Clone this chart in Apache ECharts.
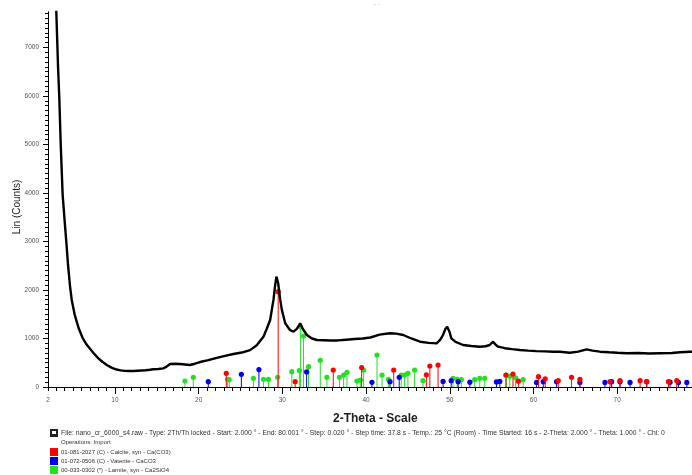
<!DOCTYPE html>
<html>
<head>
<meta charset="utf-8">
<script src="https://cdn.jsdelivr.net/npm/echarts@6/dist/echarts.min.js"></script>
<style>
  html, body { margin: 0; padding: 0; background: #fff; }
  #chart { width: 692px; height: 475px; }
</style>
</head>
<body>
<div id="chart"></div>
<script>
// Measured diffractogram: 2-theta (deg) and intensity (counts)
const scanTheta = [
  2.9, 3.0, 3.1, 3.2, 3.35, 3.52, 3.75, 4.0, 4.23, 4.4, 4.63, 4.83, 5.2, 5.69, 6.14,
  6.59, 7.02, 7.49, 7.99, 8.49, 9.02, 9.59, 10.18, 10.68, 11.18, 11.68, 12.18, 12.68, 13.18,
  13.68, 14.18, 14.57, 15.17, 15.77, 16.17, 16.57, 17.17, 17.77, 18.36, 18.96, 19.56, 20.16,
  21.16, 22.16, 23.15, 24.15, 25.15, 26.14, 26.94, 27.74, 28.14, 28.54, 28.94, 29.14, 29.29,
  29.49, 29.74, 29.94, 30.34, 30.91, 31.33, 31.73, 32.13, 32.43, 32.93, 33.53, 34.13, 35.72,
  36.62, 37.62, 38.62, 39.61, 40.51, 41.61, 42.86, 43.6, 44.45, 45.4, 46.45, 47.49, 48.44,
  48.89, 49.19, 49.49, 49.69, 49.94, 50.19, 50.69, 51.59, 52.58, 53.58, 54.28, 54.78, 55.18,
  55.48, 55.78, 56.57, 57.47, 58.37, 59.37, 60.37, 61.37, 62.36, 63.16, 64.35, 65.35, 66.35,
  67.05, 67.94, 69.04, 70.04, 71.14, 72.53, 73.83, 75.12, 76.52, 77.52, 78.72, 80.0
];
const scanCounts = [
  8400, 7700, 7150, 6600, 5960, 5000, 3960, 3400, 2900, 2500, 2080, 1800, 1480, 1200, 1010,
  880, 790, 690, 595, 520, 454, 400, 360, 342, 332, 330, 330, 335, 340,
  345, 355, 365, 372, 385, 420, 474, 480, 474, 465, 454, 480, 515,
  555, 600, 640, 680, 710, 760, 860, 1037, 1200, 1380, 1800, 2100, 2275,
  2150, 1800, 1590, 1313, 1175, 1140, 1200, 1313, 1200, 1072, 1000, 969, 960,
  960, 975, 990, 1000, 1020, 1080, 1107, 1100, 1072, 1000, 934, 910, 900,
  980, 1072, 1200, 1243, 1150, 1004, 930, 866, 845, 831, 840, 866, 934,
  870, 831, 800, 780, 763, 750, 740, 735, 728, 728, 705, 730, 777,
  750, 728, 715, 705, 695, 700, 690, 695, 700, 715, 728, 720
];

// Reference patterns: peak positions (2-theta) and stick heights (counts)
const calciteTheta = [23.3, 29.5, 31.53, 36.08, 39.47, 43.3, 47.2, 47.62, 48.6, 56.7, 57.55, 58.2,
  60.6, 61.4, 62.96, 64.55, 65.55, 69.14, 70.34, 72.74, 73.53, 76.13, 77.12];
const calciteCounts = [282, 1965, 110, 350, 400, 350, 250, 433, 454, 247, 268, 120,
  212, 170, 130, 200, 160, 110, 130, 130, 110, 110, 130];

const vateriteTheta = [21.15, 25.1, 27.2, 32.9, 40.7, 42.86, 43.96, 49.2, 50.17, 51.0, 52.4, 55.58, 55.98,
  60.37, 61.17, 62.76, 65.55, 68.54, 69.34, 70.34, 71.54, 73.53, 76.32, 77.32, 78.32];
const vateriteCounts = [110, 262, 360, 310, 97, 110, 200, 115, 130, 110, 100, 105, 115,
  95, 110, 110, 95, 95, 110, 110, 95, 110, 100, 95, 95];

const larniteTheta = [18.36, 19.36, 23.45, 23.65, 26.54, 27.74, 28.34, 29.44, 31.13, 32.03, 32.18, 32.53, 33.13,
  34.53, 35.32, 36.82, 37.32, 37.72, 38.91, 39.31, 39.71, 41.31, 41.91, 42.66, 44.2, 44.6, 45.0, 45.8,
  46.8, 50.39, 50.89, 51.39, 52.98, 53.58, 54.18, 56.77, 57.17, 57.87, 58.77];
const larniteCounts = [124, 200, 158, 150, 179, 158, 158, 200, 316, 340, 1240, 1050, 419,
  550, 200, 200, 247, 303, 124, 144, 350, 660, 247, 158, 247, 247, 282, 350,
  130, 179, 160, 150, 150, 179, 179, 247, 220, 190, 150];

// Axis ticks and labels
const xLabelValues = [2, 10, 20, 30, 40, 50, 60, 70];
const xMajorTicks = [10, 20, 30, 40, 50, 60, 70];
const yLabelValues = [0, 1000, 2000, 3000, 4000, 5000, 6000, 7000];

// Legend / file information lines
const fileInfo = 'File: nano_cr_6000_s4.raw - Type: 2Th/Th locked - Start: 2.000 \u00b0 - End: 80.001 \u00b0 - Step: 0.020 \u00b0 - Step time: 37.8 s - Temp.: 25 \u00b0C (Room) - Time Started: 16 s - 2-Theta: 2.000 \u00b0 - Theta: 1.000 \u00b0 - Chi: 0';
const operations = 'Operations: Import';
const phaseNames = [
  '01-081-2027 (C) - Calcite, syn - Ca(CO3)',
  '01-072-0506 (C) - Vaterite - CaCO3',
  '00-033-0302 (*) - Larnite, syn - Ca2SiO4'
];
const phaseColors = ['#ff0000', '#0000ee', '#22e022'];

const FONT = '"Liberation Sans", Arial, sans-serif';

// visible window of the plot (the scan runs to 80.001 deg, the frame ends just before)
const xMin = 2, xMax = 78.94, yMin = 0, yMax = 7730;

function range(a, b, step) {
  const out = [];
  for (let v = a; v <= b + 1e-9; v += step) out.push(+v.toFixed(6));
  return out;
}

function zip(a, b) { return a.map((v, i) => [v, b[i]]); }

function stickRenderer(color) {
  return function (params, api) {
    const top = api.coord([api.value(0), api.value(1)]);
    const base = api.coord([api.value(0), 0]);
    return {
      type: 'group',
      children: [
        { type: 'line', shape: { x1: top[0], y1: base[1], x2: top[0], y2: top[1] },
          style: { stroke: color, lineWidth: 1 } },
        { type: 'circle', shape: { cx: top[0], cy: top[1], r: 2.6 },
          style: { fill: color } }
      ]
    };
  };
}

const baseX = {
  type: 'value', min: xMin, max: xMax, gridIndex: 0, position: 'bottom',
  splitLine: { show: false },
  axisLine: { show: true, onZero: false, lineStyle: { color: '#000', width: 1 } }
};
const baseY = {
  type: 'value', min: yMin, max: yMax, gridIndex: 0, position: 'left',
  splitLine: { show: false },
  axisLine: { show: true, onZero: false, lineStyle: { color: '#000', width: 1 } }
};

const chart = echarts.init(document.getElementById('chart'), null, { renderer: 'canvas' });

const legendGraphics = [];
const lx = 61;
legendGraphics.push({
  type: 'rect', left: 50, top: 429, shape: { width: 8, height: 8 },
  style: { fill: '#222' }
});
legendGraphics.push({
  type: 'rect', left: 52, top: 431, shape: { width: 4, height: 3 },
  style: { fill: '#fff' }
});
legendGraphics.push({
  type: 'text', left: lx, top: 430,
  style: { text: fileInfo, font: '6.8px ' + FONT, fill: '#333' }
});
legendGraphics.push({
  type: 'text', left: lx, top: 439,
  style: { text: operations, font: '6px ' + FONT, fill: '#333' }
});
phaseNames.forEach((name, i) => {
  const y = 448 + i * 9;
  legendGraphics.push({
    type: 'rect', left: 50, top: y, shape: { width: 8, height: 8 },
    style: { fill: phaseColors[i] }
  });
  legendGraphics.push({
    type: 'text', left: lx, top: y + 1,
    style: { text: name, font: '6px ' + FONT, fill: '#333' }
  });
});

const option = {
  animation: false,
  backgroundColor: '#fff',
  grid: { left: 48, right: 0, top: 12, bottom: 88, containLabel: false },
  xAxis: [
    Object.assign({}, baseX, {
      axisTick: { show: true, inside: false, length: 4, customValues: range(2, 78, 1),
        lineStyle: { color: '#000' } },
      axisLabel: { show: false }
    }),
    Object.assign({}, baseX, {
      axisTick: { show: true, inside: false, length: 7, customValues: xMajorTicks,
        lineStyle: { color: '#000' } },
      axisLabel: { show: true, customValues: xLabelValues, margin: 10,
        fontSize: 6.5, color: '#555', fontFamily: FONT }
    })
  ],
  yAxis: [
    Object.assign({}, baseY, {
      axisTick: { show: true, inside: false, length: 3, customValues: range(0, 7700, 100),
        lineStyle: { color: '#000' } },
      axisLabel: { show: false }
    }),
    Object.assign({}, baseY, {
      axisTick: { show: true, inside: false, length: 5, customValues: yLabelValues,
        lineStyle: { color: '#000' } },
      axisLabel: { show: true, customValues: yLabelValues, margin: 9,
        fontSize: 6.5, color: '#555', fontFamily: FONT,
        formatter: (v) => String(v) }
    })
  ],
  graphic: [
    { type: 'text', x: 17, y: 207, rotation: Math.PI / 2,
      style: { text: 'Lin (Counts)', font: '10px ' + FONT, fill: '#222',
        align: 'center', verticalAlign: 'middle' } },
    { type: 'text', left: 333, top: 413,
      style: { text: '2-Theta - Scale', font: 'bold 12px ' + FONT, fill: '#222' } },
    { type: 'text', left: 374, top: 1,
      style: { text: '- -', font: '6px ' + FONT, fill: '#aaa' } }
  ].concat(legendGraphics),
  series: [
    { type: 'custom', name: 'Larnite', xAxisIndex: 0, yAxisIndex: 0,
      renderItem: stickRenderer(phaseColors[2]), data: zip(larniteTheta, larniteCounts), z: 2 },
    { type: 'custom', name: 'Vaterite', xAxisIndex: 0, yAxisIndex: 0,
      renderItem: stickRenderer(phaseColors[1]), data: zip(vateriteTheta, vateriteCounts), z: 3 },
    { type: 'custom', name: 'Calcite', xAxisIndex: 0, yAxisIndex: 0,
      renderItem: stickRenderer(phaseColors[0]), data: zip(calciteTheta, calciteCounts), z: 4 },
    { type: 'line', name: 'Scan', xAxisIndex: 0, yAxisIndex: 0,
      data: zip(scanTheta, scanCounts), showSymbol: false, symbol: 'none',
      clip: true, z: 5,
      lineStyle: { color: '#000', width: 2.4 } }
  ]
};

chart.setOption(option);
</script>
</body>
</html>
